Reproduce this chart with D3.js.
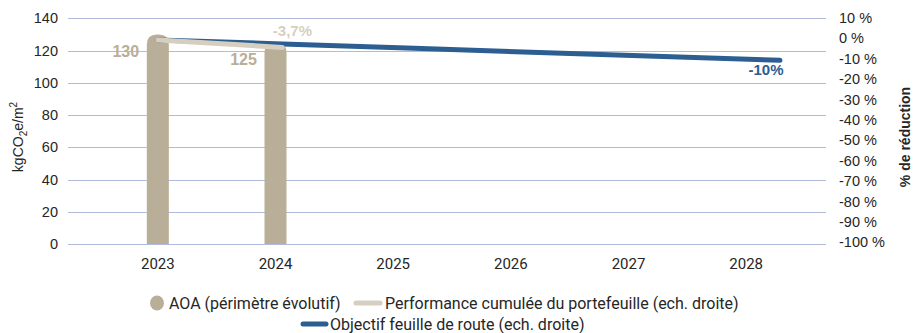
<!DOCTYPE html>
<html>
<head>
<meta charset="utf-8">
<script src="https://cdn.jsdelivr.net/npm/d3@7"></script>
<style>
  html, body { margin: 0; padding: 0; background: #fff; }
  svg { display: block; }
</style>
</head>
<body>
<svg id="chart" width="914" height="333"></svg>
<script>
// Years on the category axis
const years = ["2023", "2024", "2025", "2026", "2027", "2028"];

// Carbon intensity of the AOA scope (kgCO2e/m²), left axis
const aoaYears = ["2023", "2024"];
const aoaValues = [130, 125];

// Cumulative portfolio performance (%), right axis
const perfYears = ["2023", "2024"];
const perfValues = [0, -3.7];

// Roadmap objective (%), right axis
const objYears = ["2023", "2024", "2025", "2026", "2027", "2028"];
const objValues = [0, -2, -4, -6, -8, -10];

// Axis ticks
const leftTicks = [0, 20, 40, 60, 80, 100, 120, 140];
const rightTicks = [10, 0, -10, -20, -30, -40, -50, -60, -70, -80, -90, -100];

const colBar = "#b9ae97";
const colPerf = "#d6cfc0";
const colObj = "#2c5e92";
const colGrid = "#b1bbdd";
const colText = "#262626";

const svg = d3.select("#chart");

const plotLeft = 68, plotRight = 826;

const x = d3.scaleBand().domain(years).range([99, 805]).paddingInner(0).paddingOuter(0);
const xLine = d3.scalePoint().domain(years).range([158, 780]);
const yLeft = d3.scaleLinear().domain([0, 140]).range([244, 18.3]);
const yRight = d3.scaleLinear().domain([-100, 10]).range([244, 19.5]);

// Gridlines (left axis)
svg.append("g").selectAll("line").data(leftTicks).join("line")
  .attr("x1", plotLeft).attr("x2", plotRight)
  .attr("y1", d => Math.round(yLeft(d)) + 0.5).attr("y2", d => Math.round(yLeft(d)) + 0.5)
  .attr("stroke", colGrid).attr("stroke-width", 1.2);

// Left axis
const leftAxis = d3.axisLeft(yLeft).tickValues(leftTicks).tickSize(0).tickPadding(10);
const gL = svg.append("g").attr("transform", `translate(${plotLeft},0)`).call(leftAxis);
gL.select(".domain").remove();
gL.selectAll("text").attr("font-family", "Liberation Sans, Arial, sans-serif")
  .attr("font-size", 14.5).attr("fill", colText);

// Right axis
const rightAxis = d3.axisRight(yRight).tickValues(rightTicks).tickSize(0).tickPadding(13)
  .tickFormat(d => `${d} %`);
const gR = svg.append("g").attr("transform", `translate(${plotRight},0)`).call(rightAxis);
gR.select(".domain").remove();
gR.selectAll("text").attr("font-family", "Liberation Sans, Arial, sans-serif")
  .attr("font-size", 14.5).attr("fill", colText).attr("dy", "0.2em");

// Bottom axis
const bottomAxis = d3.axisBottom(x).tickSize(0).tickPadding(14);
const gB = svg.append("g").attr("transform", `translate(0,${yLeft(0)})`).call(bottomAxis);
gB.select(".domain").remove();
gB.selectAll("text").attr("font-family", "Roboto, sans-serif")
  .attr("font-size", 15).attr("fill", colText);

// Rounded-top bar path
function roundedTop(x0, y0, w, h, r) {
  r = Math.min(r, w / 2, h);
  return `M${x0},${y0 + h}V${y0 + r}Q${x0},${y0} ${x0 + r},${y0}H${x0 + w - r}Q${x0 + w},${y0} ${x0 + w},${y0 + r}V${y0 + h}Z`;
}

const barW = 22;
const aoa = aoaYears.map((yr, i) => ({ yr, v: aoaValues[i] }));
svg.append("g").selectAll("path").data(aoa).join("path")
  .attr("d", d => {
    const cx = x(d.yr) + x.bandwidth() / 2;
    return roundedTop(cx - barW / 2, yLeft(d.v), barW, yLeft(0) - yLeft(d.v), 10);
  })
  .attr("fill", colBar);

// Objective and performance lines
const obj = objYears.map((yr, i) => ({ yr, v: objValues[i] }));
const perf = perfYears.map((yr, i) => ({ yr, v: perfValues[i] }));
const lineGen = d3.line().x(d => xLine(d.yr)).y(d => yRight(d.v));

svg.append("path").datum(obj).attr("d", lineGen)
  .attr("fill", "none").attr("stroke", colObj).attr("stroke-width", 5)
  .attr("stroke-linecap", "round").attr("stroke-linejoin", "round");

svg.append("path").datum(perf).attr("d", lineGen)
  .attr("fill", "none").attr("stroke", colPerf).attr("stroke-width", 5)
  .attr("stroke-linecap", "round").attr("stroke-linejoin", "round");

// Value labels
const lblFont = "Liberation Sans, Arial, sans-serif";
const pct = v => String(v).replace(".", ",") + "%";

svg.append("g").selectAll("text").data(aoa).join("text")
  .attr("x", d => x(d.yr) + x.bandwidth() / 2 - 32)
  .attr("y", d => yLeft(d.v) + 23)
  .attr("text-anchor", "middle")
  .attr("font-family", lblFont).attr("font-weight", "bold").attr("font-size", 16)
  .attr("fill", colBar)
  .text(d => d.v);

svg.append("text")
  .attr("x", xLine(perfYears[1]) + 10).attr("y", yRight(perfValues[1]) - 11)
  .attr("text-anchor", "middle")
  .attr("font-family", lblFont).attr("font-weight", "bold").attr("font-size", 15)
  .attr("fill", colPerf)
  .text(pct(perfValues[1]));

svg.append("text")
  .attr("x", xLine(objYears[5]) - 14).attr("y", yRight(objValues[5]) + 15)
  .attr("text-anchor", "middle")
  .attr("font-family", lblFont).attr("font-weight", "bold").attr("font-size", 15)
  .attr("fill", colObj)
  .text(pct(objValues[5]));

// Axis titles
const tL = svg.append("text")
  .attr("transform", "translate(23,137) rotate(-90)")
  .attr("text-anchor", "middle")
  .attr("font-family", "Liberation Sans, Arial, sans-serif").attr("font-size", 14)
  .attr("fill", colText);
tL.append("tspan").text("kgCO");
tL.append("tspan").attr("dy", 4).attr("font-size", 10).text("2");
tL.append("tspan").attr("dy", -4).text("e/m");
tL.append("tspan").attr("dy", -6).attr("font-size", 10).text("2");

svg.append("text")
  .attr("transform", "translate(910,137) rotate(-90)")
  .attr("text-anchor", "middle")
  .attr("font-family", "Liberation Sans, Arial, sans-serif").attr("font-size", 14)
  .attr("font-weight", "bold")
  .attr("fill", colText)
  .text("% de réduction");

// Legend
const lg = svg.append("g").attr("font-family", "Roboto, sans-serif").attr("font-size", 16).attr("fill", colText);
lg.append("ellipse").attr("cx", 157).attr("cy", 303).attr("rx", 7).attr("ry", 7.5).attr("fill", colBar);
lg.append("text").attr("x", 169).attr("y", 309).text("AOA (périmètre évolutif)");
lg.append("line").attr("x1", 356).attr("x2", 380).attr("y1", 303).attr("y2", 303)
  .attr("stroke", colPerf).attr("stroke-width", 5).attr("stroke-linecap", "round");
lg.append("text").attr("x", 385).attr("y", 309).text("Performance cumulée du portefeuille (ech. droite)");
lg.append("line").attr("x1", 303).attr("x2", 326).attr("y1", 324).attr("y2", 324)
  .attr("stroke", colObj).attr("stroke-width", 5).attr("stroke-linecap", "round");
lg.append("text").attr("x", 330).attr("y", 330).text("Objectif feuille de route (ech. droite)");
</script>
</body>
</html>
